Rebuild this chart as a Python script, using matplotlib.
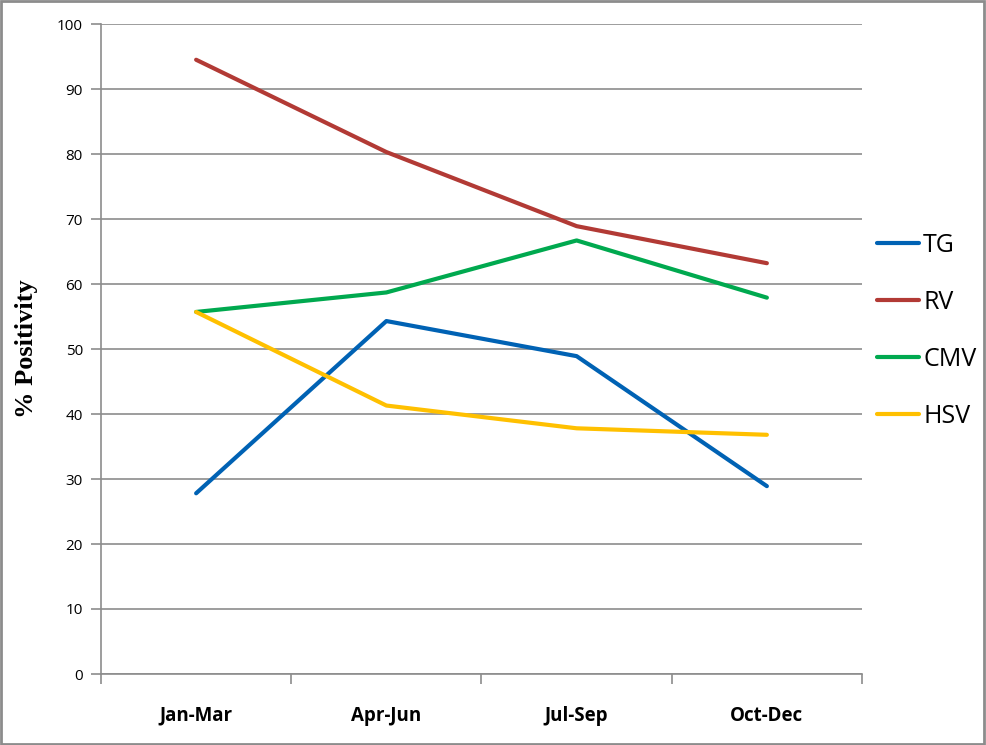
import numpy as np
import matplotlib.pyplot as plt
from matplotlib.patches import Rectangle

quarters = ['Jan-Mar', 'Apr-Jun', 'Jul-Sep', 'Oct-Dec']
tg = [27.8, 54.3, 48.9, 28.9]
rv = [94.5, 80.3, 68.9, 63.2]
cmv = [55.7, 58.7, 66.7, 57.9]
hsv = [55.7, 41.3, 37.8, 36.8]

series_names = ['TG', 'RV', 'CMV', 'HSV']
series_colors = ['#0062B4', '#B23A35', '#00A94F', '#FFC000']

plt.rcParams['font.family'] = ['Open Sans', 'DejaVu Sans']

fig = plt.figure(figsize=(9.86, 7.45), dpi=100)
ax = fig.add_axes([101 / 986, 1 - 674 / 745, 761 / 986, 650 / 745])

x = np.arange(len(quarters))
for vals, name, col in zip([tg, rv, cmv, hsv], series_names, series_colors):
    ax.plot(x, vals, color=col, lw=3, label=name, solid_capstyle='round')

ax.set_xlim(-0.5, len(quarters) - 0.5)
ax.set_ylim(0, 100)
ax.set_yticks(np.arange(0, 101, 10))
ax.yaxis.grid(True, color='#8c8c8c', lw=1.2)
ax.set_axisbelow(True)

# category labels centred, ticks at boundaries
ax.set_xticks(x)
ax.set_xticklabels(quarters, fontsize=13.5, fontweight='bold')
ax.tick_params(axis='x', length=0, pad=23)
ax.set_xticks(np.arange(-0.5, len(quarters), 1), minor=True)
ax.tick_params(axis='x', which='minor', length=7, color='#8c8c8c', width=1.2)
ax.tick_params(axis='y', length=7, color='#8c8c8c', width=1.2, labelsize=11, pad=6)

for s in ['top', 'right']:
    ax.spines[s].set_visible(False)
for s in ['left', 'bottom']:
    ax.spines[s].set_color('#8c8c8c')
    ax.spines[s].set_linewidth(1.2)

ax.set_ylabel('% Positivity', fontsize=19, fontweight='bold',
              family='Liberation Serif', labelpad=14)

ax.legend(loc='center left', bbox_to_anchor=(0.99, 0.528), frameon=False,
          fontsize=18, handlelength=1.7, handletextpad=0.15, labelspacing=1.28)

# outer border of the picture
fig.patches.append(Rectangle((0.001, 0.001), 0.997, 0.997, transform=fig.transFigure,
                             fill=False, edgecolor='#8c8c8c', lw=2))

fig.savefig('out.png', dpi=100)
